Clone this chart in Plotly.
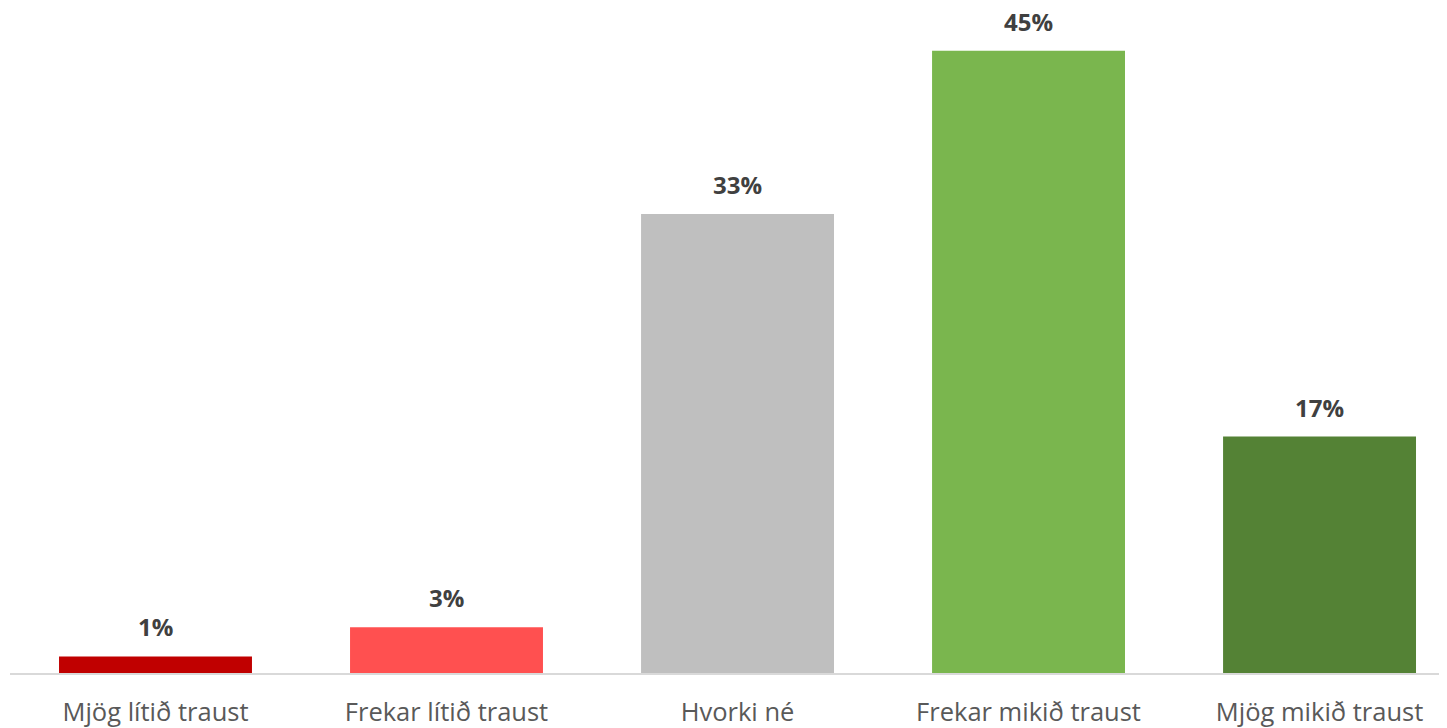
import plotly.graph_objects as go

categories = ["Mjög lítið traust", "Frekar lítið traust", "Hvorki né", "Frekar mikið traust", "Mjög mikið traust"]
values = [1.2, 3.3, 33.2, 45.0, 17.1]
labels = ["1%", "3%", "33%", "45%", "17%"]
colors = ["#C00000", "#FF5050", "#BFBFBF", "#7AB64E", "#548235"]

fig = go.Figure()
fig.add_trace(go.Bar(
    x=categories, y=values, width=0.663,
    marker=dict(color=colors, line=dict(width=0)),
    hoverinfo="skip",
))
for c, v, t in zip(categories, values, labels):
    fig.add_annotation(x=c, y=v, text="<b>%s</b>" % t, showarrow=False,
                       yanchor="bottom", yshift=12, borderpad=0,
                       font=dict(family="Open Sans", size=24, color="#404040"))

fig.update_layout(
    width=1439, height=720,
    margin=dict(l=2, r=0, t=0, b=53),
    paper_bgcolor="white", plot_bgcolor="white",
    showlegend=False,
)
fig.update_xaxes(
    range=[-0.5, 4.438], showline=True, linecolor="#D9D9D9", linewidth=2,
    showgrid=False, ticks="", ticklabelstandoff=15,
    tickfont=dict(family="Open Sans", size=25.5, color="#595959"),
)
fig.update_yaxes(range=[0, 48.09], visible=False, showgrid=False, zeroline=False)

fig.write_html("out.html")
